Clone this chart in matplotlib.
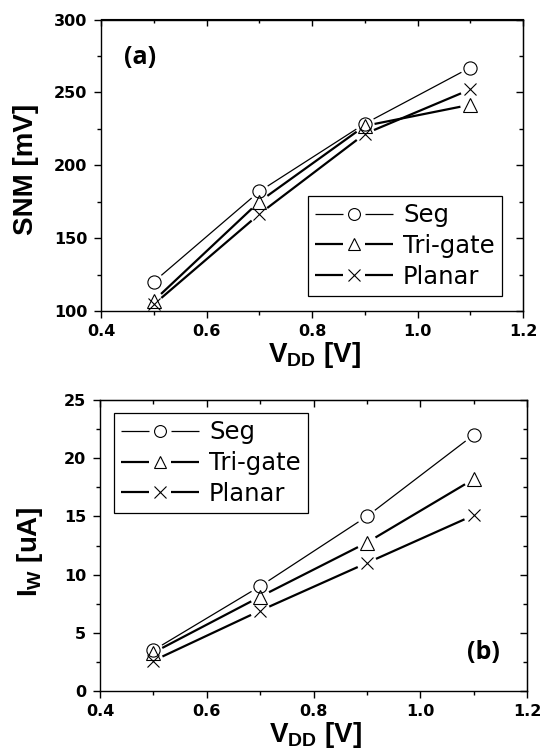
import numpy as np
import matplotlib
matplotlib.use("Agg")
import matplotlib.pyplot as plt
from matplotlib.lines import Line2D
from matplotlib.legend_handler import HandlerBase
from matplotlib.ticker import MultipleLocator

plt.rcParams["mathtext.fontset"] = "custom"
plt.rcParams["mathtext.rm"] = "Liberation Sans:bold"
plt.rcParams["mathtext.bf"] = "Liberation Sans:bold"
plt.rcParams["mathtext.it"] = "Liberation Sans:bold"

# ---- data ----
vdd = [0.5, 0.7, 0.9, 1.1]
series_names = ["Seg", "Tri-gate", "Planar"]

snm_seg = [120, 182, 228.5, 267]
snm_trigate = [107, 175, 227, 241.5]
snm_planar = [104.5, 166.5, 221.5, 252]

iw_seg = [3.5, 9.0, 15.0, 22.0]
iw_trigate = [3.3, 8.1, 12.75, 18.2]
iw_planar = [2.6, 6.9, 11.0, 15.1]

x_ticks = [0.4, 0.6, 0.8, 1.0, 1.2]
snm_ticks = [100, 150, 200, 250, 300]
iw_ticks = [0, 5, 10, 15, 20, 25]

markers = ["o", "^", "x"]
line_widths = [0.9, 1.6, 1.6]
marker_sizes = [9.5, 10, 9]
GAP_PX = 10.0

tick_font = dict(family="DejaVu Sans", weight="bold", size=11.5)
label_font = dict(family="Liberation Sans", weight="bold", size=20)

fig = plt.figure(figsize=(5.42, 7.51), dpi=100)
ax_a = fig.add_axes([101 / 542, 1 - 311 / 751, 422 / 542, 291.5 / 751])
ax_b = fig.add_axes([100 / 542, 1 - 691 / 751, 427 / 542, 291 / 751])


class GapLineHandler(HandlerBase):
    """Legend key: short line, open marker, short line, with gaps around the marker."""

    def create_artists(self, legend, orig_handle, xdescent, ydescent,
                       width, height, fontsize, trans):
        y = height / 2 - ydescent
        x0 = -xdescent
        x1 = width - xdescent
        xc = (x0 + x1) / 2
        gap = GAP_PX * 0.72 * 1.1
        lw = orig_handle.get_linewidth()
        left = Line2D([x0, xc - gap], [y, y], color="black", lw=lw,
                      solid_capstyle="butt")
        right = Line2D([xc + gap, x1], [y, y], color="black", lw=lw,
                       solid_capstyle="butt")
        mark = Line2D([xc], [y], ls="none", marker=orig_handle.get_marker(),
                      ms=orig_handle.get_markersize() * 0.9, mec="black",
                      mew=0.8, fillstyle="none")
        for a in (left, right, mark):
            a.set_transform(trans)
        return [left, right, mark]


def gapped_line(ax, x, y, lw):
    """Connect points with segments that stop short of each marker."""
    pts = ax.transData.transform(np.column_stack([x, y]))
    inv = ax.transData.inverted()
    xs, ys = [], []
    for p0, p1 in zip(pts[:-1], pts[1:]):
        d = p1 - p0
        u = d / np.hypot(*d)
        a = inv.transform(p0 + u * GAP_PX)
        b = inv.transform(p1 - u * GAP_PX)
        xs += [a[0], b[0], np.nan]
        ys += [a[1], b[1], np.nan]
    ax.plot(xs, ys, color="black", lw=lw, solid_capstyle="butt", zorder=2)


def style_axes(ax, yticks, yminor):
    ax.set_xlim(0.4, 1.2)
    ax.set_ylim(yticks[0], yticks[-1])
    ax.set_xticks(x_ticks)
    ax.set_yticks(yticks)
    ax.xaxis.set_minor_locator(MultipleLocator(0.1))
    ax.yaxis.set_minor_locator(MultipleLocator(yminor))
    ax.set_xticklabels([f"{v:.1f}" for v in x_ticks], **tick_font)
    ax.set_yticklabels([f"{v:g}" for v in yticks], **tick_font)
    ax.tick_params(which="both", direction="out", top=False, right=False, width=1.0)
    ax.tick_params(which="major", length=5)
    ax.tick_params(which="minor", length=3)
    ax.tick_params(axis="y", pad=5)
    ax.tick_params(axis="x", pad=4)
    for s in ax.spines.values():
        s.set_linewidth(1.0)
    top = ax.secondary_xaxis("top")
    top.set_xticks(x_ticks)
    top.xaxis.set_minor_locator(MultipleLocator(0.1))
    top.tick_params(which="both", direction="in", labeltop=False, width=1.0)
    top.tick_params(which="major", length=5)
    top.tick_params(which="minor", length=3)
    right = ax.secondary_yaxis("right")
    right.set_yticks(yticks)
    right.yaxis.set_minor_locator(MultipleLocator(yminor))
    right.tick_params(which="both", direction="in", labelright=False, width=1.0)
    right.tick_params(which="major", length=5)
    right.tick_params(which="minor", length=3)


def draw_panel(ax, ys, legend_anchor):
    handles = []
    for y, m, lw, ms in zip(ys, markers, line_widths, marker_sizes):
        gapped_line(ax, vdd, y, lw)
        ax.plot(vdd, y, ls="none", marker=m, ms=ms, mec="black", mew=0.8,
                fillstyle="none", zorder=3)
        handles.append(Line2D([], [], color="black", lw=lw, marker=m, ms=ms))
    leg = ax.legend(handles, series_names, loc="upper left",
                    bbox_to_anchor=legend_anchor, borderaxespad=0,
                    handler_map={Line2D: GapLineHandler()},
                    prop=dict(family="DejaVu Sans", size=17.5),
                    handlelength=3.2, handletextpad=0.4, labelspacing=0.28,
                    borderpad=0.3, numpoints=1, fancybox=False, framealpha=1)
    leg.get_frame().set_edgecolor("black")
    leg.get_frame().set_linewidth(0.9)


# ---- (a) static noise margin ----
style_axes(ax_a, snm_ticks, 25)
draw_panel(ax_a, [snm_seg, snm_trigate, snm_planar], (0.491, 0.395))
ax_a.text(-0.178, 0.487, "SNM [mV]", rotation=90, ha="center", va="center",
          transform=ax_a.transAxes, **label_font)
ax_a.text(0.505, -0.175, r"V$_{\mathbf{DD}}$ [V]", ha="center", va="baseline",
          transform=ax_a.transAxes, **label_font)
ax_a.text(0.092, 0.868, "(a)", ha="center", va="center", transform=ax_a.transAxes,
          family="Open Sans", weight="bold", size=18)

# ---- (b) write current ----
style_axes(ax_b, iw_ticks, 2.5)
draw_panel(ax_b, [iw_seg, iw_trigate, iw_planar], (0.033, 0.955))
ax_b.text(-0.164, 0.478, r"I$_{\mathbf{W}}$ [uA]", rotation=90, ha="center",
          va="center", transform=ax_b.transAxes, **label_font)
ax_b.text(0.505, -0.175, r"V$_{\mathbf{DD}}$ [V]", ha="center", va="baseline",
          transform=ax_b.transAxes, **label_font)
ax_b.text(0.897, 0.134, "(b)", ha="center", va="center", transform=ax_b.transAxes,
          family="Open Sans", weight="bold", size=18)

fig.savefig("out.png", dpi=100)
